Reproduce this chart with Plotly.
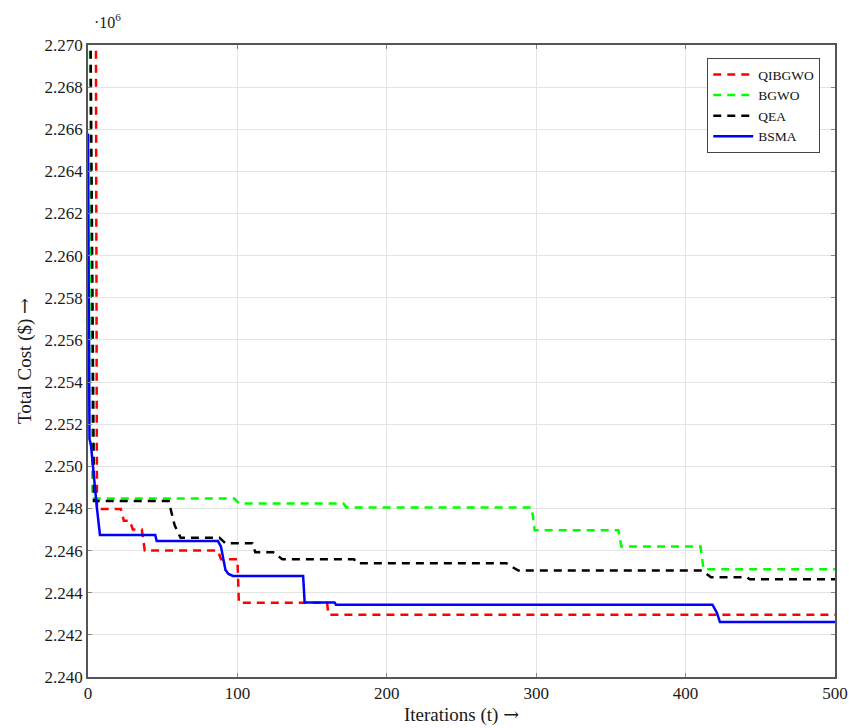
import plotly.graph_objects as go

# Iterations and total cost (x10^6 $)
qibgwo_t = [0, 5, 6, 22, 24, 28, 30, 36, 38, 44, 46, 87, 89, 100, 101, 160, 161, 500]
qibgwo_c = [2.2800, 2.2800, 2.24797, 2.24797, 2.24742, 2.24742, 2.24700, 2.24700, 2.24600, 2.24600,
            2.24600, 2.24600, 2.24559, 2.24559, 2.24352, 2.24352, 2.24296, 2.24296]

bgwo_t = [0, 3, 98, 101, 171, 173, 297, 299, 355, 357, 410, 412, 500]
bgwo_c = [2.2870, 2.24847, 2.24847, 2.24824, 2.24824, 2.24805, 2.24805, 2.24697, 2.24697, 2.24619,
          2.24619, 2.24512, 2.24512]

qea_t = [0, 4, 54, 58, 62, 88, 92, 110, 112, 124, 130, 178, 180, 280, 288, 411, 417, 441, 443, 500]
qea_c = [2.2870, 2.24835, 2.24835, 2.24720, 2.24661, 2.24661, 2.24635, 2.24635, 2.24592, 2.24592,
         2.24559, 2.24559, 2.24540, 2.24540, 2.24505, 2.24505, 2.24473, 2.24473, 2.24464, 2.24464]

bsma_t = [0, 1, 2, 5, 6, 8, 45, 46, 87, 89, 92, 94, 97, 144, 145, 165, 166, 418, 421, 423, 500]
bsma_c = [2.26580, 2.25130, 2.25100, 2.24857, 2.24800, 2.24674, 2.24674, 2.24645, 2.24645, 2.24619,
          2.24508, 2.24489, 2.24480, 2.24480, 2.24354, 2.24354, 2.24343, 2.24343, 2.24304, 2.24261,
          2.24261]

x_ticks = [0, 100, 200, 300, 400, 500]
y_ticks = [2.240, 2.242, 2.244, 2.246, 2.248, 2.250, 2.252, 2.254, 2.256, 2.258, 2.260, 2.262,
           2.264, 2.266, 2.268, 2.270]

fig = go.Figure()
dash = "8px,6px"
fig.add_trace(go.Scatter(x=qibgwo_t, y=qibgwo_c, mode="lines", name="QIBGWO",
                         line=dict(color="#ff0000", width=2.5, dash=dash)))
fig.add_trace(go.Scatter(x=bgwo_t, y=bgwo_c, mode="lines", name="BGWO",
                         line=dict(color="#00ff00", width=2.5, dash=dash)))
fig.add_trace(go.Scatter(x=qea_t, y=qea_c, mode="lines", name="QEA",
                         line=dict(color="#000000", width=2.5, dash=dash)))
fig.add_trace(go.Scatter(x=bsma_t, y=bsma_c, mode="lines", name="BSMA",
                         line=dict(color="#0000ff", width=2.5)))

font_family = "Liberation Serif, Times New Roman, serif"
arrow = "<span style='font-family:DejaVu Serif'>→</span>"
fig.update_layout(
    width=849, height=728,
    margin=dict(l=88, r=14, t=45, b=51),
    plot_bgcolor="white", paper_bgcolor="white",
    font=dict(family=font_family, size=17, color="#1a1a1a"),
    showlegend=True,
    legend=dict(x=0.829, y=0.979, xanchor="left", yanchor="top",
                bordercolor="#444", borderwidth=1, bgcolor="white",
                font=dict(size=13.5, family=font_family, color="#111"),
                tracegroupgap=0, itemwidth=40),
    xaxis=dict(range=[0, 500], tickvals=x_ticks, showgrid=True, gridcolor="#e4e4e4",
               zeroline=False, showline=True, linecolor="#555", linewidth=1.5, mirror="ticks",
               ticks="inside", ticklen=4, tickcolor="#888", automargin=False,
               title=dict(text="Iterations (t) " + arrow, font=dict(size=19), standoff=6)),
    yaxis=dict(range=[2.240, 2.270], tickvals=y_ticks, tickformat=".3f", showgrid=True,
               gridcolor="#e4e4e4", zeroline=False, showline=True, linecolor="#555",
               linewidth=1.5, mirror="ticks", ticks="inside", ticklen=4, tickcolor="#888",
               automargin=False,
               title=dict(text="Total Cost ($) " + arrow, font=dict(size=19), standoff=8)),
    annotations=[dict(text="·10<sup>6</sup>", x=0, y=1.0, xref="paper", yref="paper",
                      xanchor="left", yanchor="bottom", xshift=4, yshift=12, showarrow=False,
                      font=dict(size=16, family=font_family, color="#1a1a1a"))],
)

fig.write_html("out.html")
